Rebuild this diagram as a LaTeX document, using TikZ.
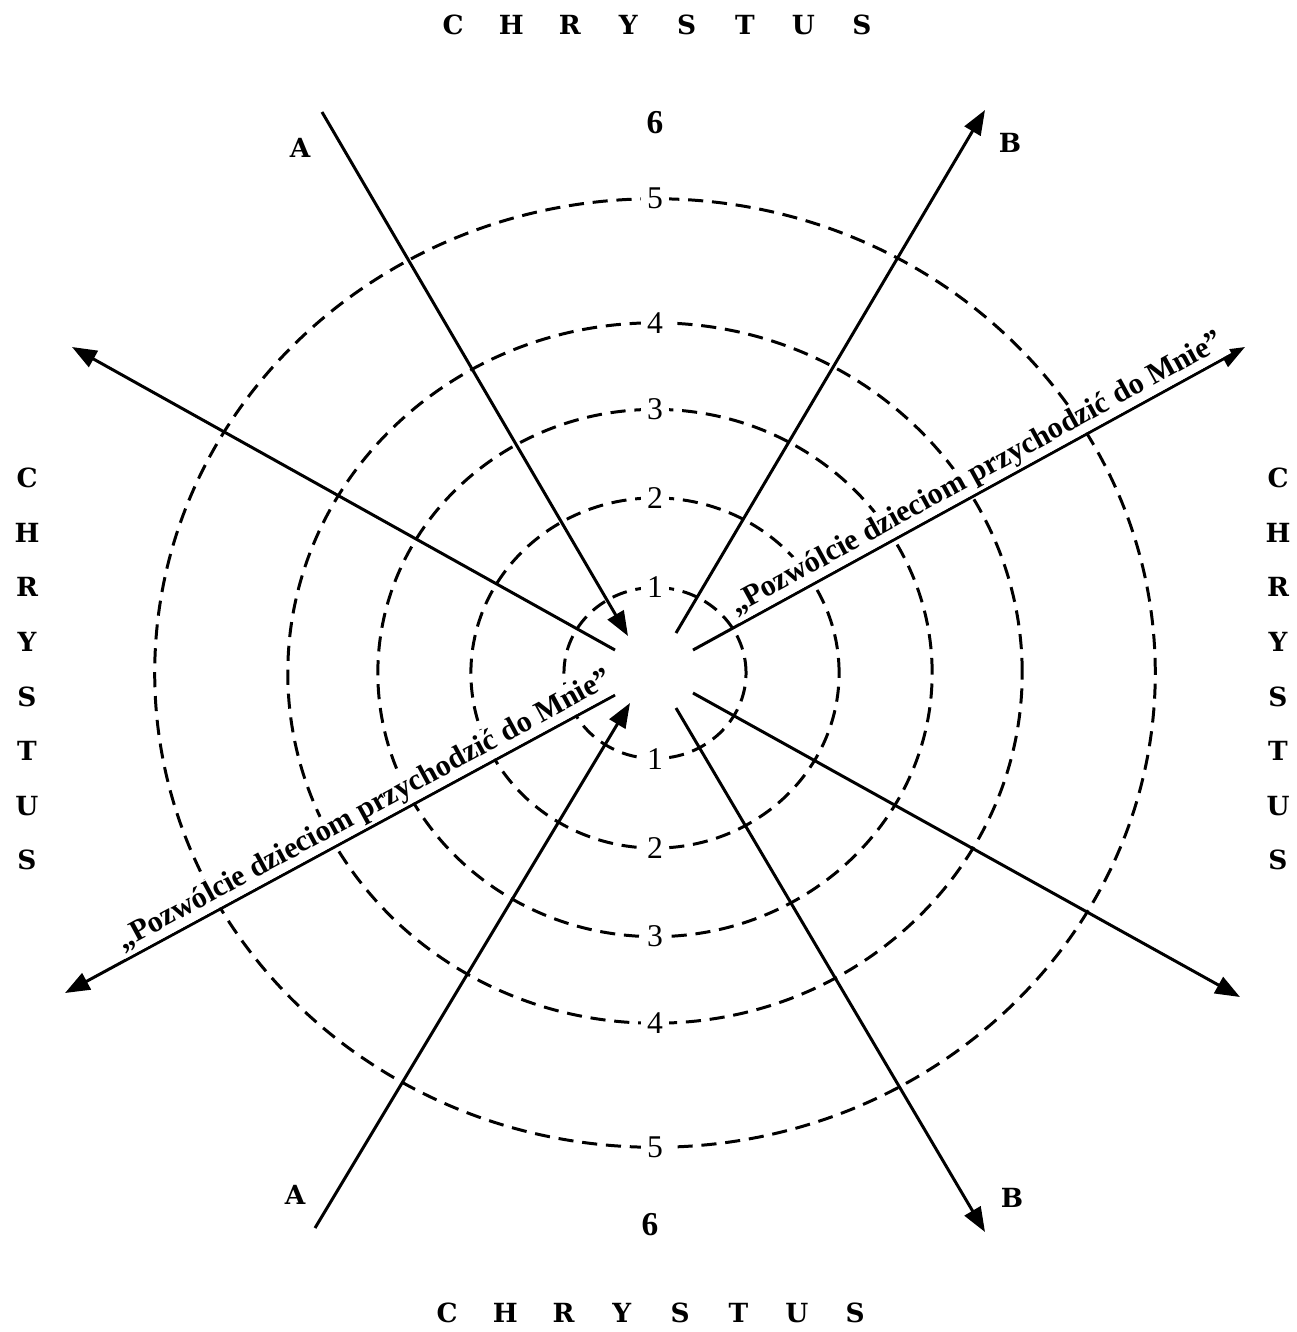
\documentclass[tikz,border=0pt]{standalone}
\usepackage{fontspec}
\setmainfont{Liberation Serif}
\newfontfamily\slab{DejaVu Serif}
\usetikzlibrary{arrows.meta}
\tikzset{
  ring/.style={dash pattern=on 4.3pt off 2.5pt,line width=0.85pt},
  ray/.style={line width=0.85pt},
  arr/.style={ray,-{Triangle[length=7pt,width=5.2pt]}},
  ringlabel/.style={fill=white,inner sep=1.8pt,font=\fontsize{9}{10}\selectfont},
  letter/.style={inner sep=0pt,font=\slab\bfseries\fontsize{7.5}{8}\selectfont},
  words/.style={fill=white,inner sep=0.6pt,font=\bfseries\fontsize{8.6}{9}\selectfont}
}
\begin{document}
\begin{tikzpicture}[x=0.01cm,y=-0.01cm]
\useasboundingbox (0,0) rectangle (1297,1332);
\coordinate (c) at (655,673);
\foreach \k/\rx/\ry in {1/0.91/0.855,2/1.84/1.75,3/2.77/2.635,4/3.67/3.50,5/5.00/4.74}{
  \draw[ring] (c) ellipse [x radius=\rx cm,y radius=\ry cm];
  \node[ringlabel] (top\k) at ([yshift=\ry cm]c) {\k};
  \node[ringlabel] (bot\k) at ([yshift=-\ry cm]c) {\k};
}
\coordinate (a1s) at (322,112); \coordinate (a1e) at (628,636);
\coordinate (a2s) at (315,1228); \coordinate (a2e) at (630,703);
\coordinate (b1s) at (676,633); \coordinate (b1e) at (985,110);
\coordinate (b2s) at (676,708); \coordinate (b2e) at (985,1232);
\coordinate (ul) at (615,650); \coordinate (ulx) at (72,347);
\coordinate (ur) at (693,650); \coordinate (urx) at (1245,347);
\coordinate (lr) at (693,693); \coordinate (lrx) at (1240,997);
\coordinate (ll) at (615,695); \coordinate (llx) at (65,993);
\draw[arr] (a1s) -- (a1e);
\draw[arr] (a2s) -- (a2e);
\draw[arr] (b1s) -- (b1e);
\draw[arr] (b2s) -- (b2e);
\draw[arr] (ul) -- (ulx);
\draw[arr] (lr) -- (lrx);
\draw[arr] (ur) -- node[words,pos=0.53,above,sloped] (say1) {„Pozwólcie dzieciom przychodzić do Mnie”} (urx);
\draw[arr] (ll) -- node[words,pos=0.44,above,sloped] (say2) {„Pozwólcie dzieciom przychodzić do Mnie”} (llx);
\node[letter] (la1) at (300,148) {A};
\node[letter] (lb1) at (1010,143) {B};
\node[letter] (la2) at (295,1195) {A};
\node[letter] (lb2) at (1012,1198) {B};
\node[letter,font=\fontsize{9.5}{10}\selectfont\bfseries] (six1) at (655,123) {6};
\node[letter,font=\fontsize{9.5}{10}\selectfont\bfseries] (six2) at (650,1225) {6};
\foreach \ch [count=\i] in {C,H,R,Y,S,T,U,S}{
  \node[letter] (n\i) at ({453+58.4*(\i-1)},25) {\ch};
  \node[letter] (s\i) at ({447+58.3*(\i-1)},1313) {\ch};
  \node[letter] (w\i) at (27,{478+54.6*(\i-1)}) {\ch};
  \node[letter] (e\i) at (1278,{478+54.6*(\i-1)}) {\ch};
}
\end{tikzpicture}
\end{document}
